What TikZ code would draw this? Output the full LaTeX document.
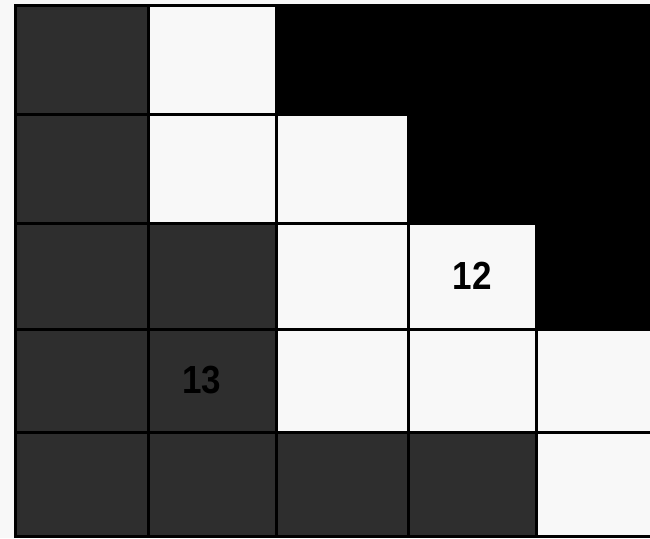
\documentclass[tikz,border=0pt]{standalone}
\usepackage{fontspec}
\setmainfont{Liberation Sans}
\usetikzlibrary{positioning}
\definecolor{cellwhite}{HTML}{F8F8F8}
\definecolor{celldark}{HTML}{2E2E2E}
\tikzset{
cell/.style={
  draw=black,
  line width=3pt,
  inner sep=0pt,
  outer sep=0pt
},
cell dark/.style={cell, fill=celldark},
cell light/.style={cell, fill=cellwhite},
cell black/.style={cell, fill=black},
cell label/.style={font=\bfseries\fontsize{35}{35}\selectfont, text=black, yscale=1.12, transform shape}
}
% column and row edges of the grid
\def\colx{{15,148,276,408,536,666}}
\def\rowy{{5,114,223,329,432,536}}

\begin{document}
\begin{tikzpicture}[x=1pt,y=-1pt]
\useasboundingbox[fill=cellwhite] (0,0) rectangle (650,538);
\foreach \k [count=\i from 0] in {
  dark,light,black,black,black,
  dark,light,light,black,black,
  dark,dark,light,light,black,
  dark,dark,light,light,light,
  dark,dark,dark,dark,light} {
  \pgfmathtruncatemacro\r{\i/5}
  \pgfmathtruncatemacro\c{mod(\i,5)}
  \pgfmathsetmacro\xa{\colx[\c]}
  \pgfmathsetmacro\xb{\colx[\c+1]}
  \pgfmathsetmacro\ya{\rowy[\r]}
  \pgfmathsetmacro\yb{\rowy[\r+1]}
  \node[cell \k, minimum width={(\xb-\xa)*1pt}, minimum height={(\yb-\ya)*1pt}]
    (cell-\r-\c) at ({(\xa+\xb)/2},{(\ya+\yb)/2}) {};
}
\node[cell label] (lbl12) at (cell-2-3) {12};
\node[cell label, xshift=-10pt] (lbl13) at (cell-3-1) {13};
\end{tikzpicture}
\end{document}
